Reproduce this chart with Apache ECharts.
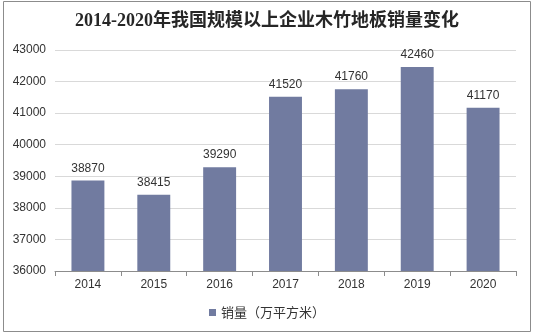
<!DOCTYPE html>
<html><head><meta charset="utf-8">
<script src="https://cdn.jsdelivr.net/npm/echarts@6/dist/echarts.min.js"></script>
<style>html,body{margin:0;padding:0;background:#fff}#c{width:534px;height:334px}</style>
</head><body><div id="c"></div>
<script>
const title = '2014-2020年我国规模以上企业木竹地板销量变化';
const categories = ['2014','2015','2016','2017','2018','2019','2020'];
const seriesName = '销量（万平方米）';
const sales = [38870, 38415, 39290, 41520, 41760, 42460, 41170];
const yMin = 36000, yMax = 43000, yStep = 1000;

const chart = echarts.init(document.getElementById('c'));
chart.setOption({
  animation: false,
  backgroundColor: '#fff',
  graphic: [{type:'rect', shape:{x:3.5,y:1.5,width:527,height:330}, style:{fill:'none', stroke:'#8c8c8c', lineWidth:1}, silent:true}],
  title: {text: title, left: 'center', top: 7, textStyle:{fontFamily:'"Liberation Serif", "Noto Sans CJK SC", serif', fontSize:18, fontWeight:'bold', color:'#262626'}},
  legend: {bottom: 10, left: 'center', itemWidth: 7, itemHeight: 7, itemGap: 4, icon:'rect',
    textStyle:{fontFamily:'"Noto Sans CJK SC", sans-serif', fontSize:13, color:'#333'}, data:[seriesName]},
  grid: {left: 55, right: 18, top: 50, bottom: 63},
  xAxis: {type:'category', data: categories,
    axisLine:{lineStyle:{color:'#8c8c8c'}}, axisTick:{show:true, length:5, lineStyle:{color:'#8c8c8c'}},
    axisLabel:{color:'#333', fontSize:12, fontFamily:'Arial, "Liberation Sans", sans-serif', margin:8}},
  yAxis: {type:'value', min:yMin, max:yMax, interval:yStep,
    axisLine:{show:false}, axisTick:{show:false},
    splitLine:{lineStyle:{color:'#d9d9d9'}},
    axisLabel:{color:'#333', fontSize:12, fontFamily:'Arial, "Liberation Sans", sans-serif', margin:9, formatter: v => String(v)}},
  series: [{name: seriesName, type:'bar', data: sales, barWidth:'50%',
    itemStyle:{color:'#717ba0'},
    label:{show:true, position:'top', distance:6, color:'#333', fontSize:12, fontFamily:'Arial, "Liberation Sans", sans-serif'}}]
});
</script></body></html>
